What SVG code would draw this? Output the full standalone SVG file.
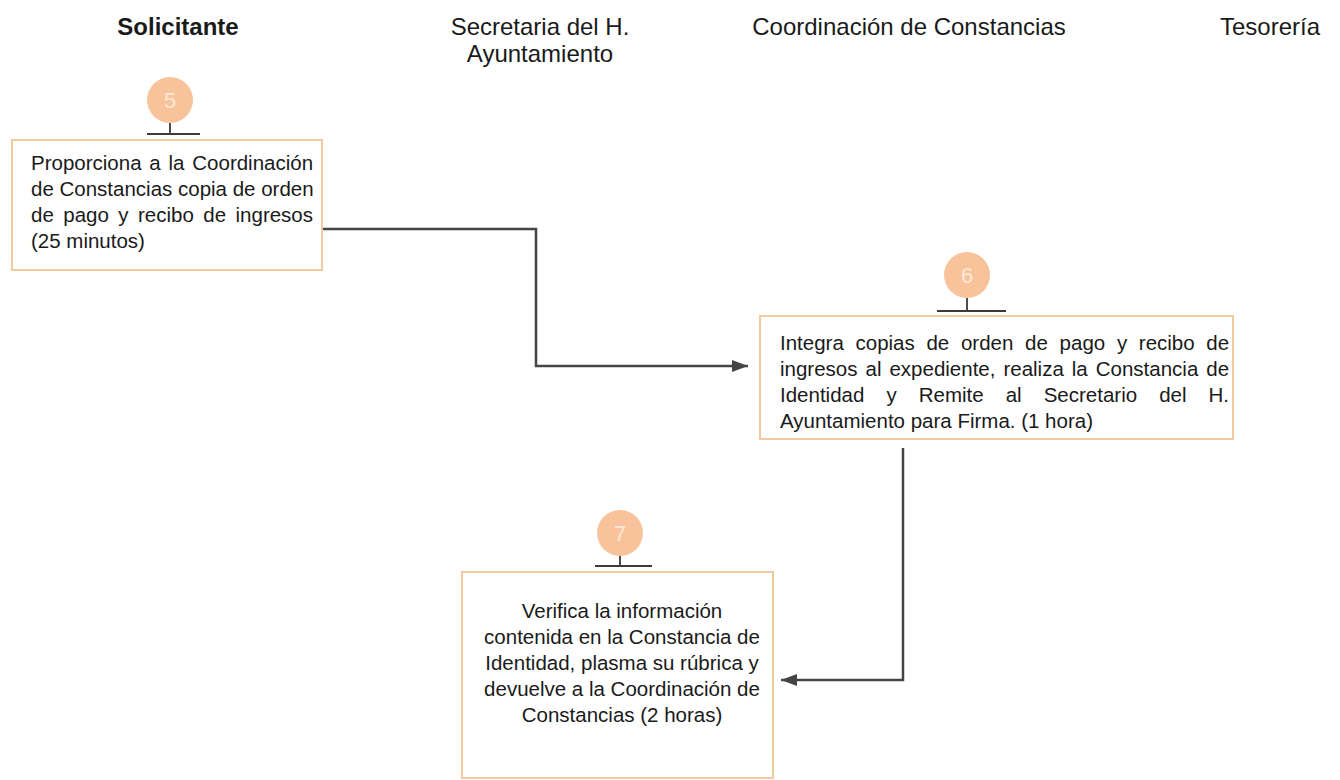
<svg xmlns="http://www.w3.org/2000/svg" width="1340" height="780" viewBox="0 0 1340 780">
<style>
.hdr{font-family:"Liberation Sans",Arial,sans-serif;font-size:24px;fill:#1a1a1a;text-anchor:middle}
.bold{font-weight:bold}
.txt{font-family:"Liberation Sans",Arial,sans-serif;font-size:20.5px;fill:#1a1a1a}
.ctr{text-anchor:middle}
.box{fill:#ffffff;stroke:#f3c9a2;stroke-width:2}
.bub{fill:#f8c39a}
.num{font-family:"Liberation Sans",Arial,sans-serif;font-size:22px;fill:#fde9d8;text-anchor:middle}
.tee{stroke:#3a3a3a;stroke-width:1.8;fill:none}
.conn{stroke:#454545;stroke-width:2.5;fill:none}
</style>
<defs>
<marker id="arr" markerWidth="16" markerHeight="12" refX="16" refY="6" orient="auto" markerUnits="userSpaceOnUse">
<path d="M0,0 L16,6 L0,12 Z" fill="#454545"/>
</marker>
</defs>
<rect width="1340" height="780" fill="#ffffff"/>
<g id="headers">
<text class="hdr bold" x="178" y="35">Solicitante</text>
<text class="hdr" x="540" y="35">Secretaria del H.</text>
<text class="hdr" x="540" y="62">Ayuntamiento</text>
<text class="hdr" x="909" y="35" font-size="25">Coordinación de Constancias</text>
<text class="hdr" x="1270" y="35">Tesorería</text>
</g>
<g id="connectors">
<path class="conn" d="M322,229 H536 V366 H748" marker-end="url(#arr)"/>
<path class="conn" d="M903,448 V680 H781" marker-end="url(#arr)"/>
</g>
<g id="node5">
<circle class="bub" cx="170" cy="100" r="23"/>
<text class="num" x="170" y="108">5</text>
<path class="tee" d="M170,123 V134 M147,134 H200"/>
<rect class="box" x="12" y="140" width="310" height="130"/>
<text class="txt" x="31" y="170" word-spacing="2.1">Proporciona a la Coordinación</text>
<text class="txt" x="31" y="196">de Constancias copia de orden</text>
<text class="txt" x="31" y="222" word-spacing="3.75">de pago y recibo de ingresos</text>
<text class="txt" x="31" y="248">(25 minutos)</text>
</g>
<g id="node6">
<circle class="bub" cx="967" cy="275" r="23"/>
<text class="num" x="967" y="283">6</text>
<path class="tee" d="M967,298 V311 M937,311 H1006"/>
<rect class="box" x="760" y="316" width="473" height="123"/>
<text class="txt" x="780" y="350" word-spacing="6">Integra copias de orden de pago y recibo de</text>
<text class="txt" x="780" y="376" word-spacing="2.3">ingresos al expediente, realiza la Constancia de</text>
<text class="txt" x="780" y="402" word-spacing="16.35">Identidad y Remite al Secretario del H.</text>
<text class="txt" x="780" y="428">Ayuntamiento para Firma. (1 hora)</text>
</g>
<g id="node7">
<circle class="bub" cx="620" cy="533" r="23"/>
<text class="num" x="620" y="541">7</text>
<path class="tee" d="M620,556 V566 M595,566 H652"/>
<rect class="box" x="462" y="572" width="311" height="206"/>
<text class="txt ctr" x="622" y="618">Verifica la información</text>
<text class="txt ctr" x="622" y="644">contenida en la Constancia de</text>
<text class="txt ctr" x="622" y="670">Identidad, plasma su rúbrica y</text>
<text class="txt ctr" x="622" y="696">devuelve a la Coordinación de</text>
<text class="txt ctr" x="622" y="722">Constancias (2 horas)</text>
</g>
</svg>
